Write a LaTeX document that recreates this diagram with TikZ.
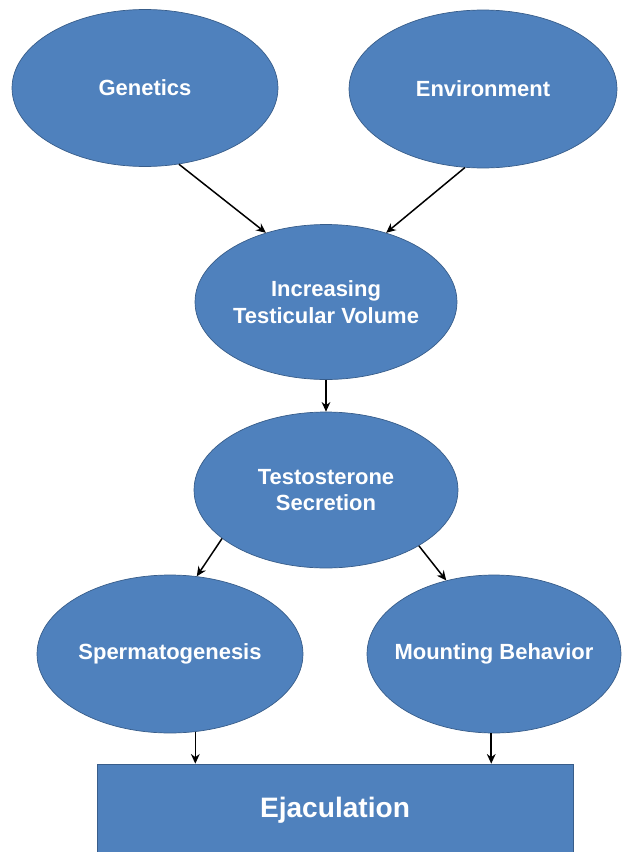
\documentclass[tikz,border=0pt]{standalone}
\usepackage{fontspec}
\setmainfont{Liberation Sans}
\usetikzlibrary{shapes.geometric,arrows.meta}
\definecolor{boxblue}{RGB}{79,129,189}
\definecolor{boxedge}{RGB}{56,93,138}
\tikzset{
  blob/.style={ellipse, draw=boxedge, fill=boxblue, text=white, inner xsep=-0.3cm,
    inner ysep=0pt, align=center, font=\bfseries\fontsize{12.5}{15.3}\selectfont},
  slab/.style={rectangle, draw=boxedge, fill=boxblue, text=white,
    font=\bfseries\fontsize{16}{19}\selectfont},
  arr/.style={-{Stealth[length=5.5pt,width=5pt]}, line width=0.85pt}
}

\begin{document}
\begin{tikzpicture}[x=0.02cm,y=-0.02cm]
      \useasboundingbox (0,0) rectangle (623,852);
      \draw
        (145,88) node[blob,minimum width=5.32cm,minimum height=3.14cm] (gen){Genetics}
        (483,89) node[blob,minimum width=5.36cm,minimum height=3.16cm] (env){Environment}
        (326,302) node[blob,minimum width=5.24cm,minimum height=3.1cm] (inc){Increasing\\Testicular Volume}
        (326,490) node[blob,minimum width=5.28cm,minimum height=3.12cm] (tes){Testosterone\\Secretion}
        (170,654) node[blob,minimum width=5.32cm,minimum height=3.16cm] (sperm){Spermatogenesis}
        (494,654) node[blob,minimum width=5.08cm,minimum height=3.16cm] (mount){Mounting Behavior}
        (335,810) node[slab,minimum width=9.52cm,minimum height=1.84cm] (ejac){Ejaculation};
      \begin{scope}[arr]
        \draw (gen.-66) to (inc.131);
        \draw (env.-103) to (inc.49);
        \draw (inc.south) to (tes.north);
        \draw (tes.205) to (sperm.71);
        \draw (tes.-31) to (mount.123);
        \draw (sperm.-72) to (sperm.-72 |- ejac.north);
        \draw (mount.-92) to (mount.-92 |- ejac.north);
      \end{scope}
    \end{tikzpicture}
\end{document}
